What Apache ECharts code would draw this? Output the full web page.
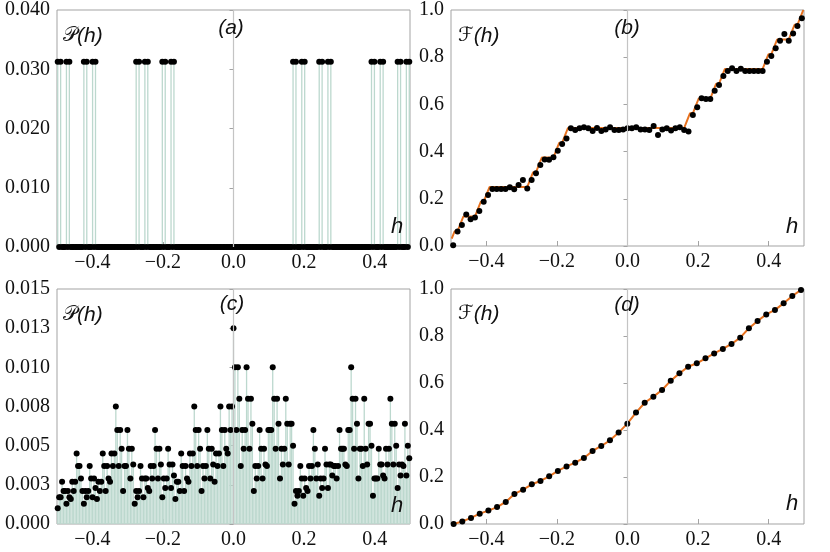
<!DOCTYPE html>
<html>
<head>
<meta charset="utf-8">
<script src="https://cdn.jsdelivr.net/npm/echarts@6/dist/echarts.min.js"></script>
<style>
  html, body { margin: 0; padding: 0; background: #fff; }
  #main { width: 830px; height: 552px; }
</style>
</head>
<body>
<div id="main"></div>
<script>
// grid of h values used for the distribution panels (a) and (c)
const N_GRID = 243;
const hGrid = Array.from({length: N_GRID}, (_, k) => (k + 0.5) / N_GRID - 0.5);

// (a) grid indices carrying probability, and the common level
const cantorIdx = [0, 2, 6, 8, 18, 20, 24, 26, 54, 56, 60, 62, 72, 74, 78, 80,
  162, 164, 168, 170, 180, 182, 186, 188, 216, 218, 222, 224, 234, 236, 240, 242];
const pALevel = 0.03125;

// (b) empirical F(h), 81 samples
const fB = [
  0.003, 0.061, 0.089, 0.134, 0.113, 0.121, 0.148, 0.188, 0.216, 0.241,
  0.241, 0.241, 0.241, 0.249, 0.240, 0.258, 0.280, 0.244, 0.280, 0.308,
  0.343, 0.367, 0.365, 0.376, 0.404, 0.432, 0.456,
  0.499, 0.492, 0.499, 0.503, 0.499, 0.487, 0.500, 0.487, 0.494, 0.503,
  0.492, 0.492, 0.494, 0.499, 0.499, 0.503, 0.494, 0.494, 0.492, 0.508,
  0.470, 0.494, 0.499, 0.489, 0.499, 0.503, 0.492, 0.485,
  0.555, 0.588, 0.626, 0.623, 0.623, 0.658, 0.682, 0.720, 0.742, 0.753,
  0.742, 0.751, 0.742, 0.742, 0.742, 0.742, 0.742, 0.781, 0.805, 0.838,
  0.870, 0.898, 0.870, 0.900, 0.932, 0.965
];
const hB = fB.map((_, j) => (j + 0.5) / fB.length - 0.5);

// (c) P(h) on the 243-point grid
const pC = [
  0.0010, 0.0017, 0.0017, 0.0027, 0.0021, 0.0021, 0.0013, 0.0021, 0.0017, 0.0016,
  0.0027, 0.0021, 0.0027, 0.0045, 0.0037, 0.0037, 0.0029, 0.0021, 0.0013, 0.0021,
  0.0017, 0.0021, 0.0037, 0.0029, 0.0017, 0.0029, 0.0023, 0.0016, 0.0027, 0.0021,
  0.0027, 0.0045, 0.0037, 0.0021, 0.0037, 0.0029, 0.0027, 0.0045, 0.0037, 0.0045,
  0.0075, 0.0060, 0.0037, 0.0060, 0.0048, 0.0021, 0.0037, 0.0037, 0.0060, 0.0048,
  0.0029, 0.0048, 0.0038, 0.0013, 0.0021, 0.0017, 0.0021, 0.0037, 0.0029, 0.0017,
  0.0029, 0.0029, 0.0023, 0.0021, 0.0037, 0.0029, 0.0037, 0.0060, 0.0048, 0.0029,
  0.0048, 0.0038, 0.0017, 0.0029, 0.0023, 0.0029, 0.0048, 0.0038, 0.0023, 0.0038,
  0.0031, 0.0016, 0.0027, 0.0027, 0.0021, 0.0045, 0.0037, 0.0021, 0.0037, 0.0029,
  0.0027, 0.0045, 0.0037, 0.0045, 0.0075, 0.0060, 0.0037, 0.0060, 0.0048, 0.0021,
  0.0037, 0.0029, 0.0037, 0.0060, 0.0048, 0.0029, 0.0048, 0.0038, 0.0027, 0.0045,
  0.0037, 0.0045, 0.0075, 0.0060, 0.0037, 0.0060, 0.0048, 0.0045, 0.0075, 0.0060,
  0.0075, 0.0125, 0.0100, 0.0060, 0.0100, 0.0080, 0.0037, 0.0060, 0.0048, 0.0060,
  0.0100, 0.0080, 0.0048, 0.0080, 0.0064, 0.0021, 0.0037, 0.0029, 0.0037, 0.0060,
  0.0048, 0.0029, 0.0048, 0.0038, 0.0037, 0.0060, 0.0060, 0.0060, 0.0100, 0.0080,
  0.0048, 0.0080, 0.0064, 0.0029, 0.0048, 0.0038, 0.0048, 0.0080, 0.0064, 0.0038,
  0.0064, 0.0064, 0.0050, 0.0013, 0.0021, 0.0018, 0.0021, 0.0037, 0.0029, 0.0018,
  0.0029, 0.0023, 0.0021, 0.0037, 0.0029, 0.0037, 0.0060, 0.0048, 0.0029, 0.0038,
  0.0018, 0.0029, 0.0023, 0.0029, 0.0048, 0.0038, 0.0023, 0.0038, 0.0038, 0.0031,
  0.0037, 0.0037, 0.0029, 0.0037, 0.0060, 0.0048, 0.0048, 0.0048, 0.0038, 0.0037,
  0.0060, 0.0060, 0.0100, 0.0080, 0.0048, 0.0080, 0.0064, 0.0029, 0.0048, 0.0048,
  0.0037, 0.0080, 0.0048, 0.0038, 0.0064, 0.0064, 0.0050, 0.0018, 0.0029, 0.0029,
  0.0029, 0.0048, 0.0038, 0.0038, 0.0031, 0.0029, 0.0048, 0.0038, 0.0048, 0.0080,
  0.0064, 0.0038, 0.0064, 0.0050, 0.0023, 0.0038, 0.0031, 0.0038, 0.0037, 0.0064,
  0.0031, 0.0050, 0.0042
];

// (d) F(h), 41 samples
const fD = [
  0.000, 0.011, 0.026, 0.044, 0.057, 0.072, 0.094, 0.128, 0.146, 0.169,
  0.183, 0.203, 0.226, 0.245, 0.261, 0.281, 0.311, 0.332, 0.356, 0.389,
  0.427, 0.474, 0.516, 0.542, 0.570, 0.610, 0.641, 0.669, 0.684, 0.705,
  0.726, 0.745, 0.766, 0.793, 0.833, 0.864, 0.892, 0.911, 0.939, 0.970, 0.996
];
const hD = fD.map((_, j) => -0.4925 + j * 0.0246);

// ticks and their labels
const xTicks = [-0.4, -0.2, 0, 0.2, 0.4];
const xTickLabels = ['\u22120.4', '\u22120.2', '0.0', '0.2', '0.4'];
const yTicksA = [0, 0.01, 0.02, 0.03, 0.04];
const yTickLabelsA = ['0.000', '0.010', '0.020', '0.030', '0.040'];
const yTicksF = [0, 0.2, 0.4, 0.6, 0.8, 1.0];
const yTickLabelsF = ['0.0', '0.2', '0.4', '0.6', '0.8', '1.0'];
const yTicksC = [0, 0.0025, 0.005, 0.0075, 0.01, 0.0125, 0.015];
const yTickLabelsC = ['0.000', '0.003', '0.005', '0.008', '0.010', '0.013', '0.015'];

const pA = hGrid.map((_, k) => cantorIdx.includes(k) ? pALevel : 0);
let acc = 0;
const cdfA = pA.map(v => (acc += v));

const STEM = '#bcd8ce';
const ORANGE = '#e8721f';
const FRAME = '#a3a3a3';
const TICK_FONT = '20px "Liberation Serif"';

const chart = echarts.init(document.getElementById('main'), null, {renderer: 'canvas'});

const grids = [
  {left: 57, top: 10, width: 353, height: 237},
  {left: 451, top: 10, width: 353, height: 236},
  {left: 57, top: 289, width: 353, height: 235},
  {left: 451, top: 289, width: 353, height: 235}
].map(g => Object.assign(g, {show: true, borderColor: FRAME, borderWidth: 1,
  backgroundColor: 'transparent', containLabel: false, outerBoundsMode: 'none'}));

function makeX(gi) {
  return {
    type: 'value', gridIndex: gi, min: -0.5, max: 0.5,
    axisLine: {show: false},
    splitLine: {show: false},
    axisTick: {show: true, inside: true, length: 5, customValues: xTicks, lineStyle: {color: FRAME}},
    axisLabel: {show: false, customValues: xTicks}
  };
}
function makeY(gi, max, ticks) {
  return {
    type: 'value', gridIndex: gi, min: 0, max: max,
    axisLine: {show: false},
    splitLine: {show: false},
    axisTick: {show: true, length: 4, customValues: ticks, lineStyle: {color: FRAME}},
    axisLabel: {show: false, customValues: ticks}
  };
}

function stemItem(params, api) {
  const top = api.coord([api.value(0), api.value(1)]);
  const base = api.coord([api.value(0), 0]);
  return {
    type: 'line',
    shape: {x1: top[0], y1: top[1], x2: base[0], y2: base[1]},
    style: {stroke: STEM, lineWidth: 1.3}
  };
}

const zeroLine = {
  silent: true, symbol: 'none', label: {show: false}, animation: false,
  lineStyle: {color: '#c4c4c4', width: 1.2, type: 'solid', opacity: 1},
  data: [{xAxis: 0}]
};

const dotStyle = {color: '#000', opacity: 1};

function panelLabel(x, y, text) {
  return {type: 'text', x: x, y: y, z: 100,
    style: {text: text, font: 'italic 21px "Liberation Sans"', fill: '#111', align: 'center', verticalAlign: 'middle'}};
}
function funcLabel(x, y, glyph) {
  return {type: 'text', x: x, y: y, z: 100,
    style: {text: '{s|' + glyph + '}{i|(h)}', fill: '#111', verticalAlign: 'middle',
      rich: {
        s: {fontFamily: 'DejaVu Sans', fontSize: 20, fill: '#111'},
        i: {fontFamily: 'Liberation Sans', fontStyle: 'italic', fontSize: 21, fill: '#111'}
      }}};
}
function hLabel(x, y) {
  return {type: 'text', x: x, y: y, z: 100,
    style: {text: 'h', font: 'italic 22px "Liberation Sans"', fill: '#111', align: 'center', verticalAlign: 'bottom'}};
}

chart.setOption({
  animation: false,
  grid: grids,
  xAxis: [makeX(0), makeX(1), makeX(2), makeX(3)],
  yAxis: [
    makeY(0, 0.04, yTicksA),
    makeY(1, 1, yTicksF),
    makeY(2, 0.015, yTicksC),
    makeY(3, 1, yTicksF)
  ],
  series: [
    // (a)
    {type: 'custom', xAxisIndex: 0, yAxisIndex: 0, renderItem: stemItem,
      data: hGrid.map((h, k) => [h, pA[k]]), encode: {x: 0, y: 1}, markLine: zeroLine, z: 1},
    {type: 'scatter', xAxisIndex: 0, yAxisIndex: 0, symbolSize: 6, itemStyle: dotStyle,
      data: hGrid.map((h, k) => [h, pA[k]]), z: 3},
    // (b)
    {type: 'line', xAxisIndex: 1, yAxisIndex: 1, showSymbol: false, symbol: 'none',
      lineStyle: {color: ORANGE, width: 2}, data: hGrid.map((h, k) => [h, cdfA[k]]),
      markLine: zeroLine, z: 2},
    {type: 'scatter', xAxisIndex: 1, yAxisIndex: 1, symbolSize: 6, itemStyle: dotStyle,
      data: hB.map((h, j) => [h, fB[j]]), z: 3},
    // (c)
    {type: 'custom', xAxisIndex: 2, yAxisIndex: 2, renderItem: stemItem,
      data: hGrid.map((h, k) => [h, pC[k]]), encode: {x: 0, y: 1}, markLine: zeroLine, z: 1},
    {type: 'scatter', xAxisIndex: 2, yAxisIndex: 2, symbolSize: 6, itemStyle: dotStyle,
      data: hGrid.map((h, k) => [h, pC[k]]), z: 3},
    // (d)
    {type: 'line', xAxisIndex: 3, yAxisIndex: 3, showSymbol: false, symbol: 'none',
      lineStyle: {color: ORANGE, width: 2}, data: hD.map((h, j) => [h, fD[j]]),
      markLine: zeroLine, z: 2},
    {type: 'scatter', xAxisIndex: 3, yAxisIndex: 3, symbolSize: 6, itemStyle: dotStyle,
      data: hD.map((h, j) => [h, fD[j]]), z: 3}
  ]
});

// tick labels as serif text placed through the axes' own conversion
// (axisLabel ignored the font family here)
const yTickSets = [
  [yTicksA, yTickLabelsA], [yTicksF, yTickLabelsF],
  [yTicksC, yTickLabelsC], [yTicksF, yTickLabelsF]
];
const tickText = [];
yTickSets.forEach(([vals, labels], gi) => {
  vals.forEach((v, i) => {
    const p = chart.convertToPixel({gridIndex: gi}, [-0.5, v]);
    tickText.push({type: 'text', x: p[0] - 7, y: p[1], z: 50, silent: true,
      style: {text: labels[i], font: TICK_FONT, fill: '#111', align: 'right', verticalAlign: 'middle'}});
  });
  xTicks.forEach((v, i) => {
    const p = chart.convertToPixel({gridIndex: gi}, [v, 0]);
    tickText.push({type: 'text', x: p[0], y: p[1] + 6, z: 50, silent: true,
      style: {text: xTickLabels[i], font: TICK_FONT, fill: '#111', align: 'center', verticalAlign: 'top'}});
  });
});

chart.setOption({
  graphic: tickText.concat([
    panelLabel(231, 28, '(a)'),
    panelLabel(627, 28, '(b)'),
    panelLabel(232, 304, '(c)'),
    panelLabel(627, 305, '(d)'),
    funcLabel(63, 36, '\uD835\uDCAB'),
    funcLabel(458, 36, '\u2131'),
    funcLabel(63, 315, '\uD835\uDCAB'),
    funcLabel(458, 314, '\u2131'),
    hLabel(397, 238),
    hLabel(792, 238),
    hLabel(397, 517),
    hLabel(792, 515)
  ])
});
</script>
</body>
</html>
